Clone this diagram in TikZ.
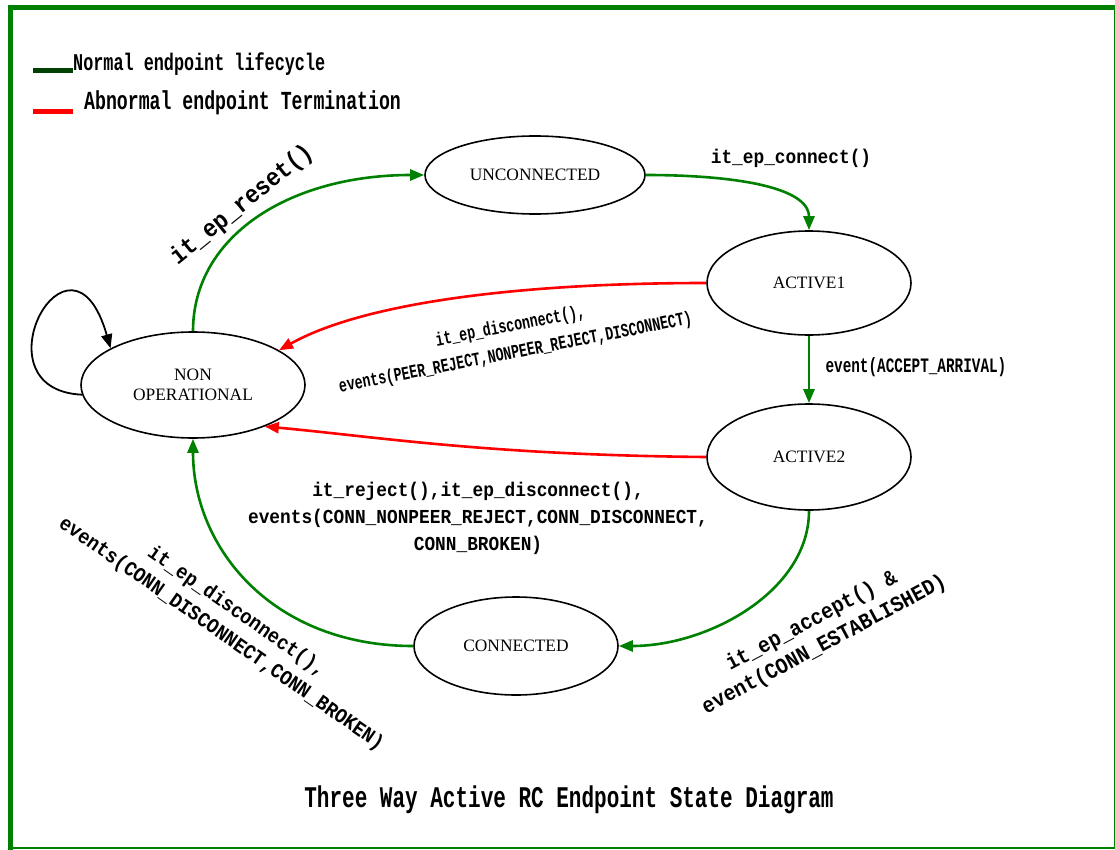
\documentclass[tikz,border=0pt]{standalone}
\usepackage{fontspec}
\setmainfont{Liberation Serif}
\newfontfamily\edgefont[FakeStretch=0.9]{Liberation Mono}
\newfontfamily\narrowfont[FakeStretch=0.7]{Liberation Mono}
\usetikzlibrary{arrows.meta,shapes.geometric}
\definecolor{framegreen}{RGB}{0,128,0}
\definecolor{lifegreen}{RGB}{0,128,0}
\definecolor{keygreen}{RGB}{0,64,0}
\definecolor{abortred}{RGB}{255,0,0}

\begin{document}
\begin{tikzpicture}[x=1pt,y=-1pt,
    state/.style={ellipse,draw,line width=1.6pt,inner sep=0pt,align=center,font=\fontsize{17.4}{20}\selectfont},
    normal/.style={draw=lifegreen,line width=2.6pt,-{Triangle[length=14pt,width=11pt]}},
    abnormal/.style={normal,draw=abortred},
    selfloop/.style={draw=black,line width=1.8pt,-{Triangle[length=14pt,width=11pt]}},
    lbl/.style={align=center,font=\edgefont\bfseries\fontsize{#1}{27}\selectfont},
    narrowlbl/.style={align=center,font=\narrowfont\bfseries\fontsize{#1}{27}\selectfont},
    keyline/.style={line width=5pt}]
  \useasboundingbox (0,0) rectangle (1115,850);
  \draw[framegreen,line width=5pt] (10,850) -- (10,7.5) -- (1115,7.5);
  \draw[framegreen,line width=1.2pt] (1114.4,7.5) -- (1114.4,848) -- (10,848);

  \node[narrowlbl=24,anchor=base west,inner sep=0pt] (keynormal) at (73,71) {Normal endpoint lifecycle};
  \node[narrowlbl=26,anchor=base west,inner sep=0pt] (keyabnormal) at (84,110) {Abnormal endpoint Termination};
  \draw[keyline,keygreen] (keynormal.base west) -- ++(-40,0);
  \draw[keyline,abortred] (keyabnormal.base west) ++(-11,2) -- ++(-40,0);

  \node[state,minimum width=224,minimum height=106] (nonop) at (193,385) {NON\\OPERATIONAL};
  \node[state,minimum width=220,minimum height=78] (unconn) at (535,175) {UNCONNECTED};
  \node[state,minimum width=204,minimum height=104] (act1) at (809,283) {ACTIVE1};
  \node[state,minimum width=204,minimum height=106] (act2) at (809,457) {ACTIVE2};
  \node[state,minimum width=204,minimum height=98] (conn) at (516,646) {CONNECTED};

  \draw[selfloop] (nonop.185) .. controls +(-110,-5) and +(-40,-140) .. (nonop.156);
  \draw[normal] (nonop.north) .. controls +(0,-95) and +(-135,0) .. (unconn.west);
  \draw[normal] (unconn.east) .. controls +(80,0) and +(0,-45) .. (act1.north);
  \draw[abnormal] (act1.west) .. controls +(-200,0) and +(80,-45) .. (nonop.22);
  \draw[normal] (act1.south) -- (act2.north);
  \draw[abnormal] (act2.west) .. controls +(-220,-2) and +(110,10) .. (nonop.-30);
  \draw[normal] (act2.south) .. controls +(0,80) and +(90,0) .. (conn.east);
  \draw[normal] (conn.west) .. controls +(-140,0) and +(0,110) .. (nonop.south);

  \node[lbl=25,rotate=39] (resetlbl) at (242,205) {it\_ep\_reset()};
  \node[lbl=19.8] (connectlbl) at (791,158) {it\_ep\_connect()};
  \node[narrowlbl=19,rotate=11] (droplbl) at (513,340) {it\_ep\_disconnect(),\\events(PEER\_REJECT,NONPEER\_REJECT,DISCONNECT)};
  \node[narrowlbl=20.5,anchor=west] (arrivallbl) at (822,367) {event(ACCEPT\_ARRIVAL)};
  \node[lbl=19.8] (rejectlbl) at (478,518) {it\_reject(),it\_ep\_disconnect(),\\events(CONN\_NONPEER\_REJECT,CONN\_DISCONNECT,\\CONN\_BROKEN)};
  \node[lbl=22,rotate=28] (acceptlbl) at (818,633) {it\_ep\_accept() \&\\event(CONN\_ESTABLISHED)};
  \node[lbl=20.7,rotate=-35] (closelbl) at (229,623) {it\_ep\_disconnect(),\\events(CONN\_DISCONNECT,CONN\_BROKEN)};

  \node[narrowlbl=30] (title) at (569,800) {Three Way Active RC Endpoint State Diagram};
\end{tikzpicture}
\end{document}
